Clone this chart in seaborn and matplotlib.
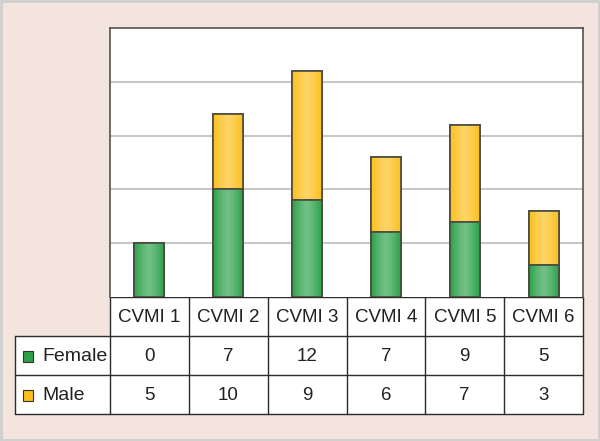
import matplotlib
matplotlib.use("Agg")
import matplotlib.pyplot as plt
from matplotlib.patches import Rectangle
import numpy as np
import pandas as pd
import seaborn as sns

# Data as shown in the picture
categories = ["CVMI 1", "CVMI 2", "CVMI 3", "CVMI 4", "CVMI 5", "CVMI 6"]
female = [0, 7, 12, 7, 9, 5]
male = [5, 10, 9, 6, 7, 3]
series_names = ["Female", "Male"]

green = "#2CA14A"
yellow = "#FCBF1C"
edge = "#4A4A40"
bg = "#F3E4DE"
line_col = "#2B2B2B"

sns.set_style("white")
plt.rcParams["font.family"] = ["Liberation Sans", "DejaVu Sans"]

df = pd.DataFrame({"cat": categories, "female": female, "male": male})
df["total"] = df["female"] + df["male"]

fig = plt.figure(figsize=(6, 4.41), dpi=100)
fig.patch.set_facecolor(bg)

W, H = 600, 441
left, right, top, bottom = 110, 583, 28, 297
ax = fig.add_axes([left / W, 1 - bottom / H, (right - left) / W, (bottom - top) / H])
ax.set_facecolor("white")

# stacked bars: total (yellow) behind, bottom segment (green) on top
sns.barplot(data=df, x="cat", y="total", color=yellow, width=0.38,
            edgecolor=edge, linewidth=1.2, saturation=1, ax=ax, zorder=3)
sns.barplot(data=df, x="cat", y="male", color=green, width=0.38,
            edgecolor=edge, linewidth=1.2, saturation=1, ax=ax, zorder=4)

# soft horizontal gradient inside each bar
grad = np.abs(np.linspace(-1, 1, 64))[None, :] ** 1.3
for p in list(ax.patches):
    if p.get_height() <= 0:
        continue
    x0, y0 = p.get_x(), p.get_y()
    w, h = p.get_width(), p.get_height()
    fc = p.get_facecolor()
    base = np.array(fc[:3])
    light = base + (1 - base) * 0.33
    img = light[None, None, :] * (1 - grad[..., None]) + base[None, None, :] * grad[..., None]
    im = ax.imshow(img, extent=[x0, x0 + w, y0, y0 + h], aspect="auto",
                   zorder=p.get_zorder() + 0.1, interpolation="bilinear")
    im.set_clip_path(p)
    border = Rectangle((x0, y0), w, h, fill=False, edgecolor=edge, lw=1.2,
                       zorder=p.get_zorder() + 0.2)
    ax.add_patch(border)

ax.set_xlim(-0.5, len(categories) - 0.5)
ax.set_ylim(0, 25)
ax.set_yticks([5, 10, 15, 20])
ax.yaxis.grid(True, color="#C8C8C8", lw=1.5)
ax.set_axisbelow(True)
ax.tick_params(left=False, bottom=False, labelleft=False, labelbottom=False)
ax.set_xlabel("")
ax.set_ylabel("")
for s in ["left", "top", "right"]:
    ax.spines[s].set_color("#555050")
    ax.spines[s].set_linewidth(1.2)
ax.spines["bottom"].set_visible(False)

# data table drawn below in pixel coordinates
tax = fig.add_axes([0, 0, 1, 1], zorder=-1)
tax.set_xlim(0, W)
tax.set_ylim(H, 0)
tax.axis("off")

col_w = (right - left) / len(categories)
rows_y = [297, 336, 375, 414]
label_x = 15
fs = 13.5

tax.add_patch(Rectangle((left, rows_y[0]), right - left, rows_y[1] - rows_y[0],
                        facecolor="white", edgecolor="none"))
tax.add_patch(Rectangle((label_x, rows_y[1]), right - label_x, rows_y[3] - rows_y[1],
                        facecolor="white", edgecolor="none"))

lw = 1.0
tax.plot([left, right], [rows_y[0], rows_y[0]], color=line_col, lw=lw)
tax.plot([left, left], [rows_y[0], rows_y[3]], color=line_col, lw=lw)
for y in rows_y[1:]:
    tax.plot([label_x, right], [y, y], color=line_col, lw=lw)
tax.plot([label_x, label_x], [rows_y[1], rows_y[3]], color=line_col, lw=lw)
for i in range(1, len(categories) + 1):
    xx = left + i * col_w
    tax.plot([xx, xx], [rows_y[0], rows_y[3]], color=line_col, lw=lw)

for i, c in enumerate(categories):
    tax.text(left + (i + 0.5) * col_w, (rows_y[0] + rows_y[1]) / 2 + 1, c,
             ha="center", va="center", fontsize=fs, color="#231F20")

row_vals = [female, male]
row_cols = [green, yellow]
for r, (name, vals, col) in enumerate(zip(series_names, row_vals, row_cols)):
    yc = (rows_y[r + 1] + rows_y[r + 2]) / 2 + 1
    tax.add_patch(Rectangle((label_x + 8, yc - 5.5), 10, 10.5, facecolor=col,
                            edgecolor="#333333", lw=0.8))
    tax.text(label_x + 27, yc, name, ha="left", va="center", fontsize=14, color="#231F20")
    for i, v in enumerate(vals):
        tax.text(left + (i + 0.5) * col_w, yc, str(v), ha="center", va="center",
                 fontsize=fs, color="#231F20")

# light frame around the whole picture
tax.add_patch(Rectangle((1, 1), W - 2, H - 2, fill=False, edgecolor="#CFCFCF", lw=2))

fig.savefig("out.png", dpi=100, facecolor=fig.get_facecolor())
